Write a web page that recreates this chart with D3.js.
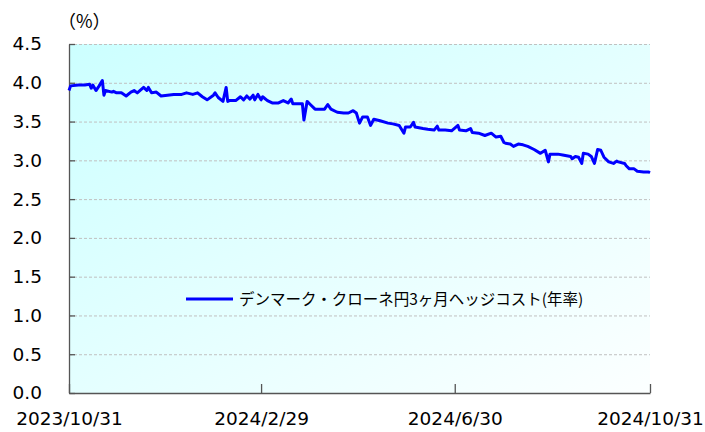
<!DOCTYPE html>
<head>
  <meta charset="utf-8">
  <script src="https://d3js.org/d3.v7.min.js"></script>
  <style>
    body { margin:0; background:#fff; }
    text { font-family: "DejaVu Sans", sans-serif; fill:#000; }
  </style>
</head>

<body>
  <script>
    var width = 705, height = 432;
    var margin = {top: 44, right: 55, bottom: 39, left: 69};

    // series: date and value
    var dates = [
      "2023-10-31","2023-11-01","2023-11-06","2023-11-10","2023-11-13","2023-11-14","2023-11-15","2023-11-17",
      "2023-11-19","2023-11-21","2023-11-22","2023-11-23","2023-11-27","2023-11-28","2023-11-30",
      "2023-12-03","2023-12-06","2023-12-09","2023-12-11","2023-12-13","2023-12-17","2023-12-19","2023-12-20",
      "2023-12-22","2023-12-25","2023-12-28",
      "2024-01-01","2024-01-05","2024-01-10","2024-01-13","2024-01-17","2024-01-20","2024-01-23","2024-01-26",
      "2024-01-30","2024-01-31",
      "2024-02-02","2024-02-05","2024-02-07","2024-02-08","2024-02-09","2024-02-13","2024-02-16","2024-02-18",
      "2024-02-20","2024-02-22","2024-02-24","2024-02-25","2024-02-27","2024-02-29",
      "2024-03-01","2024-03-04","2024-03-07","2024-03-11","2024-03-14","2024-03-17","2024-03-19","2024-03-20",
      "2024-03-24","2024-03-26","2024-03-27","2024-03-29","2024-03-31",
      "2024-04-03","2024-04-06","2024-04-09","2024-04-11","2024-04-13","2024-04-17","2024-04-21","2024-04-24",
      "2024-04-27","2024-04-29",
      "2024-05-01","2024-05-03","2024-05-06","2024-05-08","2024-05-10","2024-05-14","2024-05-19","2024-05-22",
      "2024-05-26","2024-05-29","2024-05-30",
      "2024-06-02","2024-06-04","2024-06-05","2024-06-10","2024-06-13","2024-06-17","2024-06-19","2024-06-20",
      "2024-06-24","2024-06-28",
      "2024-07-02","2024-07-03","2024-07-07","2024-07-10","2024-07-11","2024-07-15","2024-07-19","2024-07-23",
      "2024-07-26","2024-07-29","2024-07-31",
      "2024-08-01","2024-08-04","2024-08-06","2024-08-09","2024-08-12","2024-08-15","2024-08-19","2024-08-23",
      "2024-08-26","2024-08-28","2024-08-29",
      "2024-09-03","2024-09-06","2024-09-11","2024-09-12","2024-09-14","2024-09-16","2024-09-18","2024-09-19",
      "2024-09-22","2024-09-24","2024-09-26","2024-09-28","2024-09-30",
      "2024-10-02","2024-10-05","2024-10-08","2024-10-10","2024-10-11","2024-10-15","2024-10-16","2024-10-18",
      "2024-10-21","2024-10-23","2024-10-27","2024-10-30","2024-10-31"
    ];
    var hedgeCost = [
      3.90,3.96,3.97,3.97,3.98,3.93,3.97,3.90,
      3.96,4.03,3.84,3.90,3.88,3.89,3.87,
      3.87,3.83,3.88,3.90,3.87,3.94,3.90,3.94,
      3.87,3.88,3.83,
      3.84,3.85,3.85,3.87,3.85,3.87,3.82,3.78,
      3.84,3.87,
      3.81,3.76,3.94,3.76,3.77,3.77,3.82,3.78,
      3.83,3.79,3.84,3.78,3.85,3.78,
      3.82,3.77,3.74,3.74,3.77,3.74,3.79,3.73,
      3.73,3.73,3.52,3.76,3.72,
      3.66,3.66,3.66,3.72,3.66,3.62,3.61,3.61,
      3.64,3.61,
      3.48,3.56,3.56,3.45,3.53,3.51,3.48,3.47,
      3.45,3.35,3.43,
      3.43,3.49,3.43,3.41,3.40,3.39,3.44,3.39,
      3.39,3.38,
      3.45,3.39,3.38,3.41,3.36,3.35,3.32,3.35,
      3.30,3.31,3.23,
      3.22,3.21,3.18,3.21,3.20,3.18,3.14,3.09,
      3.13,2.98,3.08,
      3.08,3.07,3.05,3.02,3.05,3.04,2.96,3.09,
      3.08,3.05,2.96,3.14,3.13,
      3.04,2.98,2.96,2.99,2.98,2.96,2.93,2.89,
      2.89,2.86,2.85,2.85,2.84
    ];
    var yTicks = [0, 0.5, 1.0, 1.5, 2.0, 2.5, 3.0, 3.5, 4.0, 4.5];
    var xTickDates = ["2023-10-31", "2024-02-29", "2024-06-30", "2024-10-31"];
    var xTickLabels = ["2023/10/31", "2024/2/29", "2024/6/30", "2024/10/31"];
    var seriesName = "デンマーク・クローネ円3ヶ月ヘッジコスト(年率)";

    var parse = d3.timeParse("%Y-%m-%d");
    var data = dates.map(function(d, i) { return {date: parse(d), value: hedgeCost[i]}; });

    var svg = d3.select("body").append("svg")
      .attr("width", width)
      .attr("height", height);

    var x = d3.scaleTime()
      .domain([parse(xTickDates[0]), parse(xTickDates[xTickDates.length - 1])])
      .range([margin.left, width - margin.right]);
    var y = d3.scaleLinear()
      .domain([0, 4.5])
      .range([height - margin.bottom, margin.top]);

    // background gradient
    var grad = svg.append("defs").append("linearGradient")
      .attr("id", "bg").attr("x1", "0").attr("y1", "0").attr("x2", "1").attr("y2", "1");
    grad.append("stop").attr("offset", "0%").attr("stop-color", "#ccffff");
    grad.append("stop").attr("offset", "100%").attr("stop-color", "#fcffff");

    svg.append("rect")
      .attr("x", margin.left).attr("y", margin.top)
      .attr("width", width - margin.right - margin.left)
      .attr("height", height - margin.bottom - margin.top)
      .attr("fill", "url(#bg)");

    // grid
    svg.append("g").selectAll("line").data(yTicks.filter(function(d) { return d > 0; })).enter().append("line")
      .attr("x1", margin.left).attr("x2", width - margin.right)
      .attr("y1", function(d) { return y(d) + 0.5; })
      .attr("y2", function(d) { return y(d) + 0.5; })
      .attr("stroke", "#c0c0c0")
      .attr("stroke-dasharray", "3,2");

    // y axis
    var yAxis = d3.axisLeft(y).tickValues(yTicks).tickSizeInner(-6).tickSizeOuter(0).tickPadding(27)
      .tickFormat(d3.format(".1f"));
    var gy = svg.append("g")
      .attr("transform", "translate(" + margin.left + ",0)")
      .call(yAxis);
    gy.selectAll("line, path").attr("stroke", "#555").attr("stroke-width", 1.3);
    gy.selectAll("text").style("font-size", "18.5px").attr("fill", "#000");

    // x axis
    var xAxis = d3.axisBottom(x).tickValues(xTickDates.map(parse)).tickSizeInner(-9).tickSizeOuter(0)
      .tickPadding(19)
      .tickFormat(function(d, i) { return xTickLabels[i]; });
    var gx = svg.append("g")
      .attr("transform", "translate(0," + (height - margin.bottom) + ")")
      .call(xAxis);
    gx.selectAll("line, path").attr("stroke", "#555").attr("stroke-width", 1.3);
    gx.selectAll("text").style("font-size", "18.5px").attr("fill", "#000");

    // line
    var line = d3.line()
      .x(function(d) { return x(d.date); })
      .y(function(d) { return y(d.value); });
    svg.append("path")
      .datum(data)
      .attr("d", line)
      .attr("fill", "none")
      .attr("stroke", "#0000ff")
      .attr("stroke-width", 3)
      .attr("stroke-linejoin", "round");

    // unit label
    svg.append("text")
      .attr("x", 58).attr("y", 28)
      .style("font-family", "'Noto Sans CJK JP', sans-serif")
      .style("font-size", "18px")
      .text("（%）");

    // legend
    var lg = svg.append("g").attr("transform", "translate(186,299)");
    lg.append("line").attr("x1", 0).attr("x2", 47).attr("y1", 0).attr("y2", 0)
      .attr("stroke", "#0000ff").attr("stroke-width", 3);
    lg.append("text").attr("x", 53).attr("y", 6)
      .style("font-family", "'Noto Sans CJK JP', sans-serif")
      .style("font-size", "15.5px")
      .text(seriesName);
  </script>
</body>
